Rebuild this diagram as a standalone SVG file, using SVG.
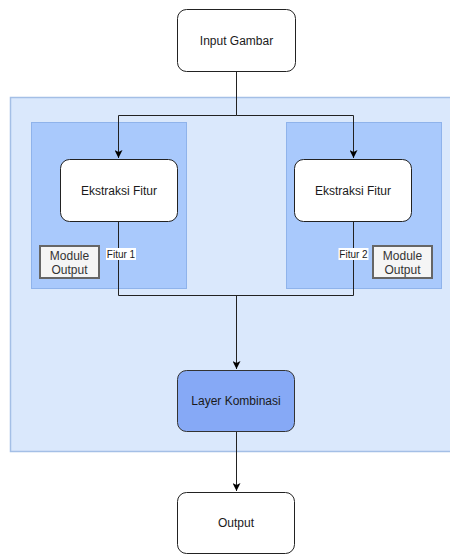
<svg xmlns="http://www.w3.org/2000/svg" width="450" height="554" viewBox="0 0 450 554">
<style>
text{font-family:"Liberation Sans",Arial,sans-serif;fill:#1a1a1a;text-anchor:middle;dominant-baseline:central}
.node{fill:#fff;stroke:#222;stroke-width:1}
.lbl{font-size:12px}
.mod{fill:#f5f5f5;stroke:#666;stroke-width:2}
.modt{font-size:12px;fill:#333}
.edge{fill:none;stroke:#222;stroke-width:1}
.flab{font-size:10px}
</style>
<defs>
<marker id="arr" viewBox="0 0 10 10" refX="10" refY="5" markerWidth="8" markerHeight="8" markerUnits="userSpaceOnUse" orient="auto">
<path d="M0,0 L10,5 L0,10 L2.5,5 Z" fill="#000"/>
</marker>
</defs>
<rect width="450" height="554" fill="#fff"/>
<g id="container-main"><rect x="10.5" y="97.5" width="445" height="354" fill="#dae8fc" stroke="#a4bfe6" stroke-width="1.5"/></g>
<g id="container-left"><rect x="31.5" y="122.5" width="155" height="166" fill="#a9c9fc" stroke="#8fb3eb"/></g>
<g id="container-right"><rect x="286.5" y="122.5" width="155" height="166" fill="#a9c9fc" stroke="#8fb3eb"/></g>
<g id="connectors">
<path class="edge" d="M236.5,71 V115.5 H118.5 V158" marker-end="url(#arr)"/>
<path class="edge" d="M236.5,115.5 H353.5 V158" marker-end="url(#arr)"/>
<path class="edge" d="M118.5,221 V295.5 H353.5 V221"/>
<path class="edge" d="M236.5,295.5 V369" marker-end="url(#arr)"/>
<path class="edge" d="M236.5,432 V491" marker-end="url(#arr)"/>
</g>
<g id="input-gambar"><rect class="node" x="177.5" y="9.5" width="118" height="62" rx="9"/><text class="lbl" x="236.5" y="40.5">Input Gambar</text></g>
<g id="ekstraksi-1"><rect class="node" x="60.5" y="159.5" width="117" height="62" rx="9"/><text class="lbl" x="119" y="190.5">Ekstraksi Fitur</text></g>
<g id="ekstraksi-2"><rect class="node" x="294.5" y="159.5" width="117" height="62" rx="9"/><text class="lbl" x="353" y="190.5">Ekstraksi Fitur</text></g>
<g id="module-output-1"><rect class="mod" x="40" y="246" width="59" height="32"/><text class="modt" x="69.5" y="255.5">Module</text><text class="modt" x="69.5" y="270">Output</text></g>
<g id="module-output-2"><rect class="mod" x="373" y="246" width="59" height="32"/><text class="modt" x="402.5" y="255.5">Module</text><text class="modt" x="402.5" y="270">Output</text></g>
<g id="fitur-1"><rect x="106" y="248" width="30" height="12" fill="#fff"/><text class="flab" x="121" y="254">Fitur 1</text></g>
<g id="fitur-2"><rect x="338.5" y="248" width="30" height="12" fill="#fff"/><text class="flab" x="353.5" y="254">Fitur 2</text></g>
<g id="layer-kombinasi"><rect x="177.5" y="370.5" width="117" height="61" rx="9" fill="#86a9f6" stroke="#333"/><text class="lbl" x="236" y="401">Layer Kombinasi</text></g>
<g id="output"><rect class="node" x="177.5" y="492.5" width="117" height="61" rx="9"/><text class="lbl" x="236" y="523">Output</text></g>
</svg>
